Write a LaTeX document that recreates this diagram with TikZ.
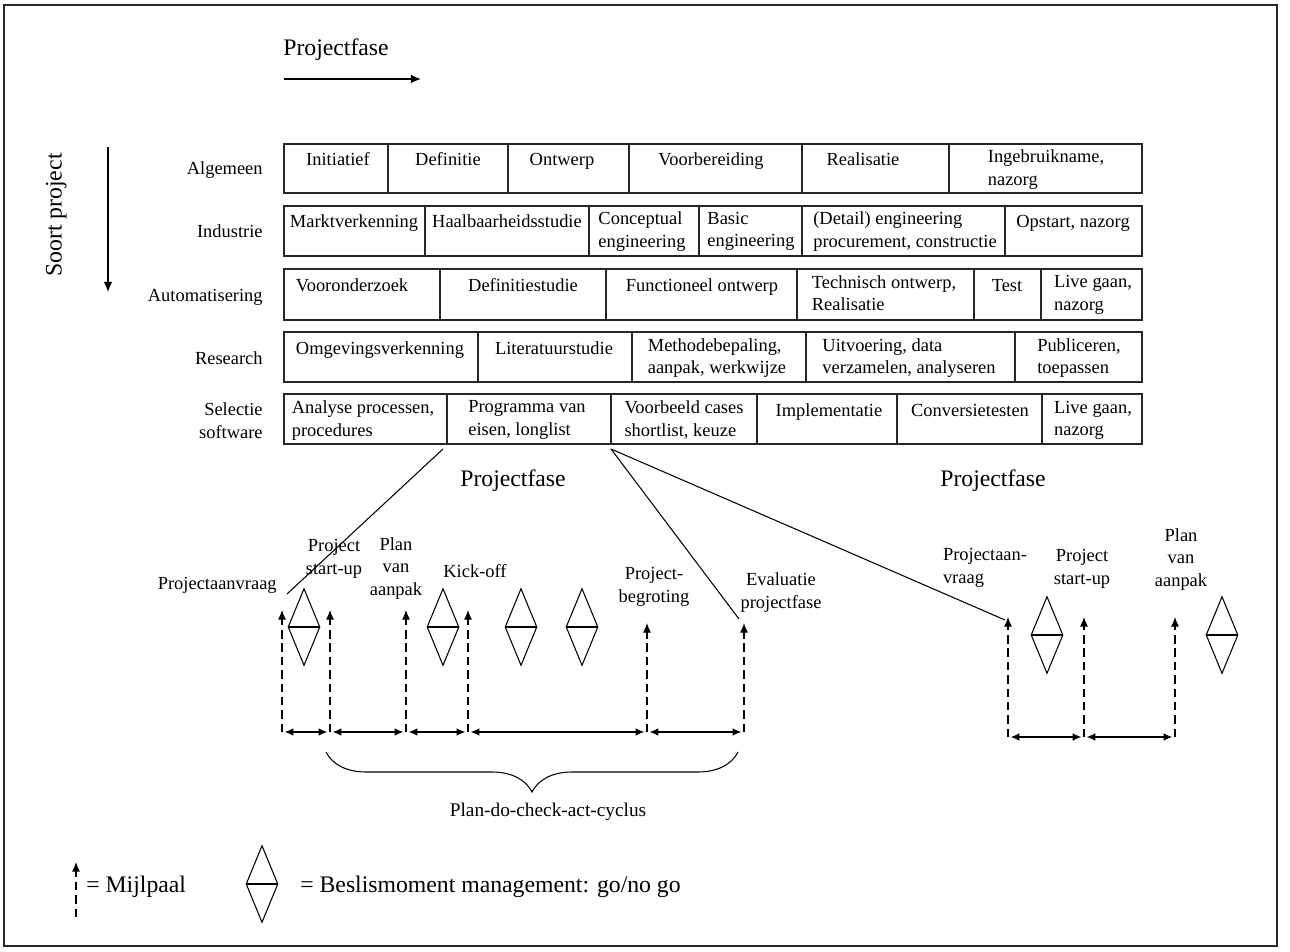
\documentclass[tikz,border=0pt]{standalone}
\usepackage{fontspec}
\setmainfont{Liberation Serif}
\usetikzlibrary{arrows.meta,shapes.geometric,decorations.pathreplacing}
\tikzset{
  tekst/.style={inner sep=0pt,font=\fontsize{10.5}{13}\selectfont,
    execute at begin node=\strut,execute at end node=\strut},
  groot/.style={inner sep=0pt,font=\fontsize{13.5}{16}\selectfont,
    execute at begin node=\strut,execute at end node=\strut},
  cel/.style={tekst,anchor=north,align=left},
  rijnaam/.style={tekst,anchor=east,align=right},
  mijlnaam/.style={tekst,align=center},
  rand/.style={draw=black!85,line width=0.8pt},
  tabel/.style={draw=black!85,line width=0.75pt},
  pijl/.style={-{Latex[length=5.8pt,width=5pt]},line width=0.8pt},
  lijn/.style={line width=0.6pt},
  mijl/.style={dash pattern=on 4.8pt off 2.8pt,line width=0.6pt,
    -{Latex[length=5.5pt,width=4.6pt]}},
  spanne/.style={{Latex[length=5pt,width=4.4pt]}-{Latex[length=5pt,width=4.4pt]},
    line width=0.7pt,shorten <=1.5pt,shorten >=1.5pt},
  beslis/.style={diamond,draw,line width=0.6pt,inner sep=0pt,
    minimum width=0.64cm,minimum height=1.54cm,
    path picture={\draw[line width=0.6pt] (path picture bounding box.west) -- (path picture bounding box.east);}},
  accolade/.style={decorate,decoration={brace,mirror,amplitude=0.8cm},line width=0.6pt},
}
\begin{document}
\begin{tikzpicture}[x=0.02cm,y=-0.02cm]
\useasboundingbox (0,0) rectangle (1290,952);
\draw[rand] (4,5) rectangle (1277,946);

% assen
\node[groot,anchor=west] (pfTop) at (283,50) {Projectfase};
\coordinate (pfA) at (284,79);
\coordinate (pfB) at (421,79);
\draw[pijl] (pfA) -- (pfB);

\node[groot,rotate=90] (soort) at (56,215) {Soort project};
\coordinate (spA) at (108,147);
\coordinate (spB) at (108,292);
\draw[pijl] (spA) -- (spB);

% Algemeen
\node[rijnaam] (nAlg) at (263,170) {Algemeen};
\draw[tabel] (284,144) rectangle (1142,193)
  (388,144) -- ++(0,49) (508,144) -- ++(0,49) (629,144) -- ++(0,49)
  (802,144) -- ++(0,49) (949,144) -- ++(0,49);
\node[cel] (alg1) at (338,149.5) {Initiatief};
\node[cel] (alg2) at (448,149.5) {Definitie};
\node[cel] (alg3) at (562,149.5) {Ontwerp};
\node[cel] (alg4) at (711,149.5) {Voorbereiding};
\node[cel] (alg5) at (863,149.5) {Realisatie};
\node[cel] (alg6) at (1046,149.5) {Ingebruikname,\\nazorg};

% Industrie
\node[rijnaam] (nInd) at (263,233) {Industrie};
\draw[tabel] (284,206) rectangle (1142,256)
  (425,206) -- ++(0,50) (589,206) -- ++(0,50) (699,206) -- ++(0,50)
  (802,206) -- ++(0,50) (1005,206) -- ++(0,50);
\node[cel] (ind1) at (354,211.5) {Marktverkenning};
\node[cel] (ind2) at (507,211.5) {Haalbaarheidsstudie};
\node[cel] (ind3) at (642,211.5) {Conceptual\\engineering};
\node[cel] (ind4) at (751,211.5) {Basic\\engineering};
\node[cel] (ind5) at (905,211.5) {(Detail) engineering\\procurement, constructie};
\node[cel] (ind6) at (1073,211.5) {Opstart, nazorg};

% Automatisering
\node[rijnaam] (nAut) at (263,297) {Automatisering};
\draw[tabel] (284,269) rectangle (1142,320)
  (440,269) -- ++(0,51) (606,269) -- ++(0,51) (797,269) -- ++(0,51)
  (974,269) -- ++(0,51) (1041,269) -- ++(0,51);
\node[cel] (aut1) at (352,275) {Vooronderzoek};
\node[cel] (aut2) at (523,275) {Definitiestudie};
\node[cel] (aut3) at (702,275) {Functioneel ontwerp};
\node[cel] (aut4) at (884,275) {Technisch ontwerp,\\Realisatie};
\node[cel] (aut5) at (1007,275) {Test};
\node[cel] (aut6) at (1093,275) {Live gaan,\\nazorg};

% Research
\node[rijnaam] (nRes) at (263,360) {Research};
\draw[tabel] (284,332) rectangle (1142,382)
  (478,332) -- ++(0,50) (632,332) -- ++(0,50) (806,332) -- ++(0,50)
  (1015,332) -- ++(0,50);
\node[cel] (res1) at (380,338) {Omgevingsverkenning};
\node[cel] (res2) at (554,338) {Literatuurstudie};
\node[cel] (res3) at (717,338) {Methodebepaling,\\aanpak, werkwijze};
\node[cel] (res4) at (909,338) {Uitvoering, data\\verzamelen, analyseren};
\node[cel] (res5) at (1079,338) {Publiceren,\\toepassen};

% Selectie software
\node[rijnaam] (nSel) at (263,424) {Selectie\\software};
\draw[tabel] (284,394) rectangle (1142,444)
  (447,394) -- ++(0,50) (611,394) -- ++(0,50) (757,394) -- ++(0,50)
  (897,394) -- ++(0,50) (1042,394) -- ++(0,50);
\node[cel] (sel1) at (363,400.5) {Analyse processen,\\procedures};
\node[cel] (sel2) at (527,400.5) {Programma van\\eisen, longlist};
\node[cel] (sel3) at (684,400.5) {Voorbeeld cases\\shortlist, keuze};
\node[cel] (sel4) at (829,400.5) {Implementatie};
\node[cel] (sel5) at (970,400.5) {Conversietesten};
\node[cel] (sel6) at (1093,400.5) {Live gaan,\\nazorg};

% uitvergroting projectfase
\node[groot] (pfMid) at (513,481) {Projectfase};
\node[groot] (pfRechts) at (993,481) {Projectfase};

% mijlpalen links
\coordinate (m1o) at (282,732); \coordinate (m1b) at (282,610);
\coordinate (m2o) at (330,732); \coordinate (m2b) at (330,610);
\coordinate (m3o) at (406,732); \coordinate (m3b) at (406,610);
\coordinate (m4o) at (468,732); \coordinate (m4b) at (468,610);
\coordinate (m5o) at (647,732); \coordinate (m5b) at (647,623);
\coordinate (m6o) at (744,732); \coordinate (m6b) at (744,623);
\draw[mijl] (m1o) -- (m1b);
\draw[mijl] (m2o) -- (m2b);
\draw[mijl] (m3o) -- (m3b);
\draw[mijl] (m4o) -- (m4b);
\draw[mijl] (m5o) -- (m5b);
\draw[mijl] (m6o) -- (m6b);
\draw[spanne] (m1o) -- (m2o);
\draw[spanne] (m2o) -- (m3o);
\draw[spanne] (m3o) -- (m4o);
\draw[spanne] (m4o) -- (m5o);
\draw[spanne] (m5o) -- (m6o);

\node[beslis] (d1) at (304,627) {};
\node[beslis] (d2) at (443,627) {};
\node[beslis] (d3) at (521,627) {};
\node[beslis] (d4) at (582,627) {};

\node[mijlnaam,anchor=east] (lAanvraag) at (277,585) {Projectaanvraag};
\node[mijlnaam] (lStart) at (334,560) {Project\\start-up};
\node[mijlnaam] (lPlan) at (396,570) {Plan\\van\\aanpak};
\node[mijlnaam] (lKick) at (475,573) {Kick-off};
\node[mijlnaam] (lBegroting) at (654,588) {Project-\\begroting};
\node[mijlnaam] (lEvaluatie) at (781,594) {Evaluatie\\projectfase};

% mijlpalen rechts
\coordinate (r1o) at (1008,737); \coordinate (r1b) at (1008,617);
\coordinate (r2o) at (1084,737); \coordinate (r2b) at (1084,617);
\coordinate (r3o) at (1175,737); \coordinate (r3b) at (1175,617);
\draw[mijl] (r1o) -- (r1b);
\draw[mijl] (r2o) -- (r2b);
\draw[mijl] (r3o) -- (r3b);
\draw[spanne] (r1o) -- (r2o);
\draw[spanne] (r2o) -- (r3o);

\node[beslis] (d5) at (1047,635) {};
\node[beslis] (d6) at (1222,635) {};

\node[mijlnaam,align=left] (rAanvraag) at (985,569) {Projectaan-\\vraag};
\node[mijlnaam] (rStart) at (1082,570) {Project\\start-up};
\node[mijlnaam] (rPlan) at (1181,561) {Plan\\van\\aanpak};

% lijnen vanuit de tabel
\coordinate (sA) at (443,449);
\coordinate (sB) at (611,449);
\coordinate (eA) at (287,594);
\coordinate (eB) at (739,619);
\coordinate (eC) at (1005,620);
\draw[lijn] (sA) -- (eA);
\draw[lijn] (sB) -- (eB);
\draw[lijn] (sB) -- (eC);

% accolade
\coordinate (bL) at (326,752);
\coordinate (bR) at (738,752);
\draw[accolade] (bL) -- (bR);
\node[tekst,font=\fontsize{11}{13}\selectfont] (pdca) at (548,812) {Plan-do-check-act-cyclus};

% legenda
\coordinate (legO) at (76,917);
\coordinate (legB) at (76,862);
\draw[mijl] (legO) -- (legB);
\node[groot,anchor=west] (legMijl) at (86,887) {= Mijlpaal};
\node[beslis] (legD) at (262,884) {};
\node[groot,anchor=west] (legBeslis) at (300,887) {= Beslismoment management: go/no go};

\end{tikzpicture}
\end{document}
